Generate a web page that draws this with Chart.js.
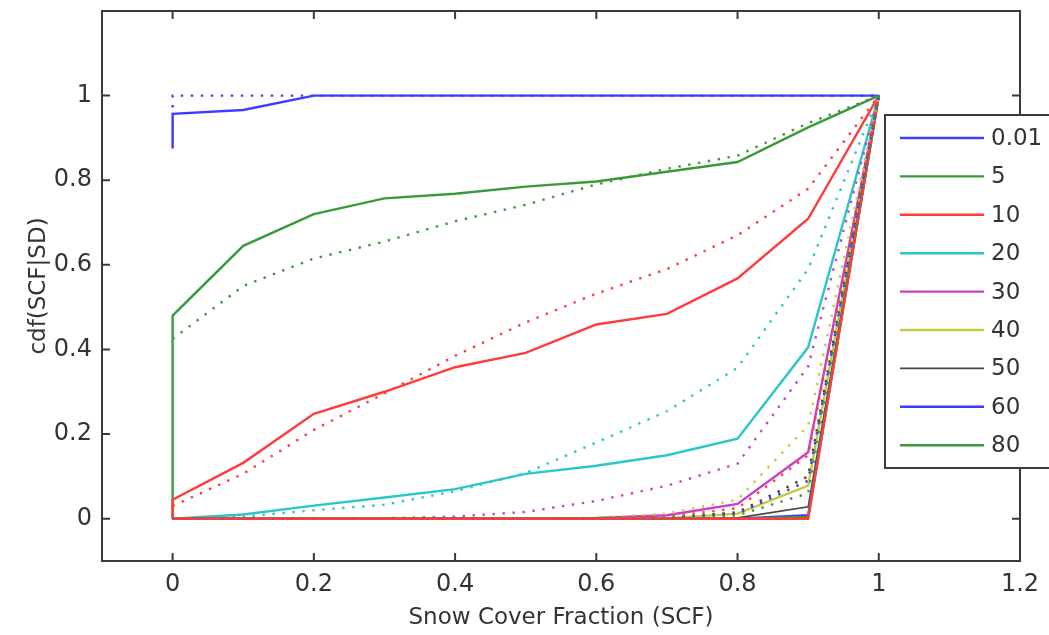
<!DOCTYPE html>
<html>
<head>
<meta charset="utf-8">
<title>cdf(SCF|SD)</title>
<script src="https://cdn.jsdelivr.net/npm/chart.js@4.4.0/dist/chart.umd.min.js"></script>
<style>
  body { margin: 0; background: #fff; }
  canvas { display: block; }
</style>
</head>
<body>
<canvas id="cdfChart" width="1049" height="635"></canvas>
<script>
// Snow cover fraction grid and axis ticks
const scf = [0, 0.1, 0.2, 0.3, 0.4, 0.5, 0.6, 0.7, 0.8, 0.9, 1];
const xTicks = [0, 0.2, 0.4, 0.6, 0.8, 1, 1.2];
const yTicks = [0, 0.2, 0.4, 0.6, 0.8, 1];

// Snow depth classes; the last curve wraps round to red and has no legend entry
const sdLabels = ['0.01', '5', '10', '20', '30', '40', '50', '60', '80', ''];
const lineColors = ['#3c3cff', '#3a9a3a', '#ff3c3c', '#2cc6c6', '#c840c8', '#c8c83c', '#454545', '#3c3cff', '#3a9a3a', '#ff3c3c'];

// Empirical cdf (solid lines)
const obs001 = [0.957, 0.966, 1, 1, 1, 1, 1, 1, 1, 1, 1];
const obs5   = [0.48, 0.645, 0.72, 0.757, 0.768, 0.785, 0.797, 0.82, 0.843, 0.925, 1];
const obs10  = [0.045, 0.132, 0.248, 0.3, 0.358, 0.392, 0.459, 0.484, 0.568, 0.709, 1];
const obs20  = [0, 0.01, 0.031, 0.05, 0.07, 0.106, 0.125, 0.15, 0.189, 0.405, 1];
const obs30  = [0, 0, 0, 0, 0, 0, 0.002, 0.008, 0.035, 0.157, 1];
const obs40  = [0, 0, 0, 0, 0, 0, 0, 0.001, 0.012, 0.078, 1];
const obs50  = [0, 0, 0, 0, 0, 0, 0, 0, 0.002, 0.028, 1];
const obs60  = [0, 0, 0, 0, 0, 0, 0, 0, 0, 0.008, 1];
const obs80  = [0, 0, 0, 0, 0, 0, 0, 0, 0, 0.004, 1];
const obs100 = [0, 0, 0, 0, 0, 0, 0, 0, 0, 0, 1];
// value each empirical curve jumps from at SCF = 0
const obsStart = [0.875, 0, 0, null, null, null, null, null, null, null];

// Fitted cdf (dotted lines)
const fit001 = [1, 1, 1, 1, 1, 1, 1, 1, 1, 1, 1];
const fit5   = [0.425, 0.55, 0.615, 0.655, 0.703, 0.742, 0.79, 0.827, 0.858, 0.935, 1];
const fit10  = [0.03, 0.106, 0.21, 0.296, 0.385, 0.464, 0.532, 0.59, 0.67, 0.78, 1];
const fit20  = [0, 0.005, 0.02, 0.033, 0.065, 0.108, 0.18, 0.254, 0.357, 0.59, 1];
const fit30  = [0, 0, 0, 0.001, 0.005, 0.016, 0.042, 0.078, 0.13, 0.36, 1];
const fit40  = [0, 0, 0, 0, 0, 0, 0.002, 0.012, 0.045, 0.22, 1];
const fit50  = [0, 0, 0, 0, 0, 0, 0, 0.002, 0.015, 0.1, 1];
const fit60  = [0, 0, 0, 0, 0, 0, 0, 0.002, 0.012, 0.09, 1];
const fit80  = [0, 0, 0, 0, 0, 0, 0, 0, 0.008, 0.06, 1];
const fit100 = [0, 0, 0, 0, 0, 0, 0, 0.004, 0.025, 0.15, 1];
const fitStart = [0.972, null, null, null, null, null, null, null, null, null];

const observed = [obs001, obs5, obs10, obs20, obs30, obs40, obs50, obs60, obs80, obs100];
const fitted = [fit001, fit5, fit10, fit20, fit30, fit40, fit50, fit60, fit80, fit100];

function toPoints(start, ys) {
    const pts = [];
    if (start !== null) pts.push({ x: 0, y: start });
    ys.forEach((y, i) => pts.push({ x: scf[i], y: y }));
    return pts;
}

const datasets = [];
observed.forEach((ys, i) => {
    datasets.push({
        label: sdLabels[i],
        data: toPoints(obsStart[i], ys),
        borderColor: lineColors[i],
        borderWidth: i === 6 ? 1.6 : 2.4,
        inLegend: sdLabels[i] !== ''
    });
});
fitted.forEach((ys, i) => {
    datasets.push({
        label: sdLabels[i],
        data: toPoints(fitStart[i], ys),
        borderColor: lineColors[i],
        borderWidth: 2.4,
        borderDash: [2.4, 7.6],
        inLegend: false
    });
});
// later curves are painted over earlier ones
datasets.forEach((ds, i) => { ds.order = datasets.length - i; });

const FONT = 'DejaVu Sans';
const AXIS = '#3a3a3a';

// Box round the axes with inward ticks on all four sides
const frameTicks = {
    id: 'frameTicks',
    afterDraw(chart) {
        const { ctx, chartArea: a, scales } = chart;
        const len = 8;
        ctx.save();
        ctx.strokeStyle = AXIS;
        ctx.lineWidth = 2;
        ctx.strokeRect(a.left, a.top, a.right - a.left, a.bottom - a.top);
        ctx.beginPath();
        xTicks.forEach(v => {
            const px = scales.x.getPixelForValue(v);
            ctx.moveTo(px, a.bottom); ctx.lineTo(px, a.bottom - len);
            ctx.moveTo(px, a.top); ctx.lineTo(px, a.top + len);
        });
        yTicks.forEach(v => {
            const py = scales.y.getPixelForValue(v);
            ctx.moveTo(a.left, py); ctx.lineTo(a.left + len, py);
            ctx.moveTo(a.right, py); ctx.lineTo(a.right - len, py);
        });
        ctx.stroke();
        ctx.restore();
    }
};

// MATLAB-style legend box on the right edge
const sideLegend = {
    id: 'sideLegend',
    afterDraw(chart) {
        const { ctx, chartArea: a } = chart;
        const items = chart.data.datasets.filter(d => d.inLegend);
        const left = a.right - 135, top = 115, bottom = 468;
        const rowH = 38.4;
        ctx.save();
        ctx.fillStyle = '#fff';
        ctx.fillRect(left, top, 200, bottom - top);
        ctx.strokeStyle = AXIS;
        ctx.lineWidth = 2;
        ctx.strokeRect(left, top, 200, bottom - top);
        ctx.font = '23px ' + FONT;
        ctx.textBaseline = 'middle';
        ctx.textAlign = 'left';
        items.forEach((d, i) => {
            const y = top + 23 + i * rowH;
            ctx.strokeStyle = d.borderColor;
            ctx.lineWidth = d.borderWidth;
            ctx.beginPath();
            ctx.moveTo(left + 15, y);
            ctx.lineTo(left + 99, y);
            ctx.stroke();
            ctx.fillStyle = '#333';
            ctx.fillText(d.label, left + 106, y + 1);
        });
        ctx.restore();
    }
};

const fmt = v => String(+Number(v).toFixed(1));

new Chart(document.getElementById('cdfChart'), {
    type: 'line',
    data: { datasets: datasets },
    options: {
        responsive: false,
        animation: false,
        events: [],
        layout: { padding: { top: 11, right: 29, left: 0, bottom: 0 } },
        elements: {
            point: { radius: 0 },
            line: { tension: 0, borderCapStyle: 'butt', fill: false }
        },
        plugins: {
            legend: { display: false },
            tooltip: { enabled: false }
        },
        scales: {
            x: {
                type: 'linear',
                min: -0.1,
                max: 1.2,
                afterBuildTicks: s => { s.ticks = xTicks.map(v => ({ value: v })); },
                afterFit: s => { s.height = 74; },
                grid: { display: false, drawTicks: false },
                border: { display: false },
                ticks: { color: '#333', font: { family: FONT, size: 24 }, padding: 9, callback: fmt, maxRotation: 0 },
                title: { display: true, text: 'Snow Cover Fraction (SCF)', color: '#333', font: { family: FONT, size: 23 }, padding: { top: 0, bottom: 3 } }
            },
            y: {
                type: 'linear',
                min: -0.1,
                max: 1.2,
                afterBuildTicks: s => { s.ticks = yTicks.map(v => ({ value: v })); },
                afterFit: s => { s.width = 102; s.paddingTop = 0; s.paddingBottom = 0; },
                grid: { display: false, drawTicks: false },
                border: { display: false },
                ticks: { color: '#333', font: { family: FONT, size: 24 }, padding: 10, callback: fmt },
                title: { display: true, text: 'cdf(SCF|SD)', color: '#333', font: { family: FONT, size: 23 }, padding: { top: 25, bottom: 0 } }
            }
        }
    },
    plugins: [frameTicks, sideLegend]
});
</script>
</body>
</html>
